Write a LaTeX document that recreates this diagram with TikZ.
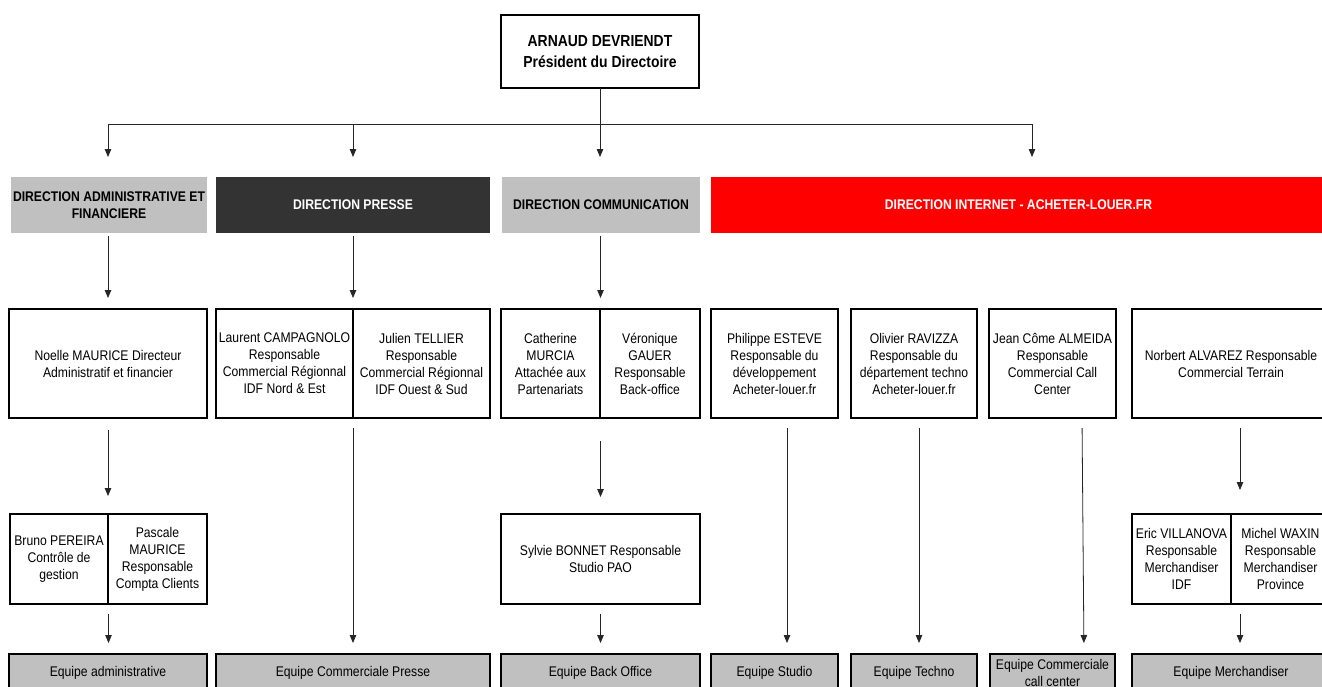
\documentclass[tikz,border=0pt]{standalone}
\usepackage{fontspec}
\setmainfont{Liberation Sans}[FakeStretch=0.87]
\usetikzlibrary{arrows.meta,fit}
\definecolor{hgray}{HTML}{C0C0C0}
\definecolor{hdark}{HTML}{333333}
\definecolor{hred}{HTML}{FF0000}
\begin{document}
\begin{tikzpicture}[x=1pt,y=-1pt,
  every node/.style={font=\fontsize{14}{17}\selectfont, align=center, inner sep=1pt, outer sep=0pt},
  wbox/.style={draw, line width=2pt, fill=white},
  half/.style={draw, line width=1.2pt},
  frame/.style={draw, line width=2pt, inner sep=0pt},
  hdr/.style={font=\bfseries\fontsize{14}{17.5}\selectfont, minimum height=56pt},
  team/.style={draw, line width=2pt, fill=hgray, minimum height=38pt},
  arr/.style={draw=black!85, line width=0.8pt, -{Triangle[length=8pt,width=6.5pt]}},
  ln/.style={draw=black!85, line width=0.8pt}]
\clip (0,0) rectangle (1322,686);
\fill[white] (0,0) rectangle (1322,686);

% top
\node[wbox, line width=2.5pt, minimum width=198pt, minimum height=73pt,
      font=\bfseries\fontsize{16}{21}\selectfont] (pres) at (600,51.5)
      {ARNAUD DEVRIENDT\\Président du Directoire};

% headers
\node[hdr, fill=hgray, minimum width=196pt] (hadm) at (109,205) {DIRECTION ADMINISTRATIVE ET\\FINANCIERE};
\node[hdr, fill=hdark, text=white, minimum width=274pt] (hpre) at (353,205) {DIRECTION PRESSE};
\node[hdr, fill=hgray, minimum width=198pt] (hcom) at (601,205) {DIRECTION COMMUNICATION};
\node[hdr, fill=hred, text=white, minimum width=615pt] (hint) at (1018.5,205) {DIRECTION INTERNET - ACHETER-LOUER.FR};

% middle row
\node[wbox, minimum width=198pt, minimum height=109pt] (noelle) at (108,363.5) {Noelle MAURICE Directeur\\Administratif et financier};
\node[half, minimum width=137pt, minimum height=109pt] (laurent) at (284.5,363.5) {Laurent CAMPAGNOLO\\Responsable\\Commercial Régionnal\\IDF Nord \& Est};
\node[half, minimum width=137pt, minimum height=109pt] (julien) at (421.5,363.5) {Julien TELLIER\\Responsable\\Commercial Régionnal\\IDF Ouest \& Sud};
\node[frame, fit=(laurent)(julien)] (presse2) {};
\node[half, minimum width=99pt, minimum height=109pt] (catherine) at (550.5,363.5) {Catherine\\MURCIA\\Attachée aux\\Partenariats};
\node[half, minimum width=100pt, minimum height=109pt] (veronique) at (650,363.5) {Véronique\\GAUER\\Responsable\\Back-office};
\node[frame, fit=(catherine)(veronique)] (comm2) {};
\node[wbox, minimum width=127pt, minimum height=109pt] (phil) at (774.5,363.5) {Philippe ESTEVE\\Responsable du\\développement\\Acheter-louer.fr};
\node[wbox, minimum width=126pt, minimum height=109pt] (oliv) at (914,363.5) {Olivier RAVIZZA\\Responsable du\\département techno\\Acheter-louer.fr};
\node[wbox, minimum width=127pt, minimum height=109pt] (jean) at (1052.5,363.5) {Jean Côme ALMEIDA\\Responsable\\Commercial Call\\Center};
\node[wbox, minimum width=198pt, minimum height=109pt] (norb) at (1231,363.5) {Norbert ALVAREZ Responsable\\Commercial Terrain};

% third row
\node[half, minimum width=98pt, minimum height=90pt] (bruno) at (59,559) {Bruno PEREIRA\\Contrôle de\\gestion};
\node[half, minimum width=99pt, minimum height=90pt] (pascale) at (157.5,559) {Pascale\\MAURICE\\Responsable\\Compta Clients};
\node[frame, fit=(bruno)(pascale)] (adm3) {};
\node[wbox, minimum width=199pt, minimum height=90pt] (sylvie) at (600.5,559) {Sylvie BONNET Responsable\\Studio PAO};
\node[half, minimum width=99pt, minimum height=90pt] (eric) at (1181.5,559) {Eric VILLANOVA\\Responsable\\Merchandiser\\IDF};
\node[half, minimum width=99pt, minimum height=90pt] (michel) at (1280.5,559) {Michel WAXIN\\Responsable\\Merchandiser\\Province};
\node[frame, fit=(eric)(michel)] (merch3) {};

% bottom row
\node[team, minimum width=198pt] (eqadm) at (108,673) {Equipe administrative};
\node[team, minimum width=274pt] (eqpre) at (353,673) {Equipe Commerciale Presse};
\node[team, minimum width=199pt] (eqbo) at (600.5,673) {Equipe Back Office};
\node[team, minimum width=127pt] (eqstu) at (774.5,673) {Equipe Studio};
\node[team, minimum width=126pt] (eqtec) at (914,673) {Equipe Techno};
\node[team, minimum width=125pt] (eqcall) at (1052.5,673) {Equipe Commerciale\\call center};
\node[team, minimum width=198pt] (eqmer) at (1231,673) {Equipe Merchandiser};

% bus
\coordinate (b1) at (108,124);
\coordinate (b2) at (353,124);
\coordinate (b4) at (1032,124);
\draw[ln] (b1) -- (b4);
\draw[arr, shorten >=20pt] (pres) -- (pres |- hcom.north);
\draw[arr, shorten >=20pt] (b1) -- (b1 |- hadm.north);
\draw[arr, shorten >=20pt] (b2) -- (b2 |- hpre.north);
\draw[arr, shorten >=20pt] (b4) -- (b4 |- hint.north);

% headers to middle
\draw[arr, shorten <=3pt, shorten >=11pt] (noelle.north |- hadm.south) -- (noelle.north);
\draw[arr, shorten <=3pt, shorten >=11pt] (hpre.south) -- (hpre.south |- presse2.north);
\draw[arr, shorten <=3pt, shorten >=11pt] (comm2.north |- hcom.south) -- (comm2.north);

% middle to third row
\draw[arr, shorten <=12pt, shorten >=18pt] (noelle.south) -- (noelle.south |- adm3.north);
\draw[arr, shorten <=23pt, shorten >=17pt] (comm2.south) -- (comm2.south |- sylvie.north);
\draw[arr, shorten <=10pt, shorten >=24pt] ([xshift=9pt]norb.south) -- ([xshift=9pt]norb.south |- merch3.north);

% long connectors
\draw[arr, shorten <=10pt, shorten >=11pt] (presse2.south) -- (presse2.south |- eqpre.north);
\draw[arr, shorten <=10pt, shorten >=11pt] ([xshift=12.5pt]phil.south) -- ([xshift=12.5pt]phil.south |- eqstu.north);
\draw[arr, shorten <=10pt, shorten >=11pt] ([xshift=5pt]oliv.south) -- ([xshift=5pt]oliv.south |- eqtec.north);
\draw[arr, shorten <=10pt, shorten >=11pt] ([xshift=29.5pt]jean.south) -- ([xshift=31.5pt]eqcall.north);

% third row to bottom
\draw[arr, shorten <=10pt, shorten >=11pt] (adm3.south) -- (adm3.south |- eqadm.north);
\draw[arr, shorten <=10pt, shorten >=11pt] (sylvie.south) -- (sylvie.south |- eqbo.north);
\draw[arr, shorten <=10pt, shorten >=11pt] ([xshift=9pt]merch3.south) -- ([xshift=9pt]merch3.south |- eqmer.north);
\end{tikzpicture}
\end{document}
